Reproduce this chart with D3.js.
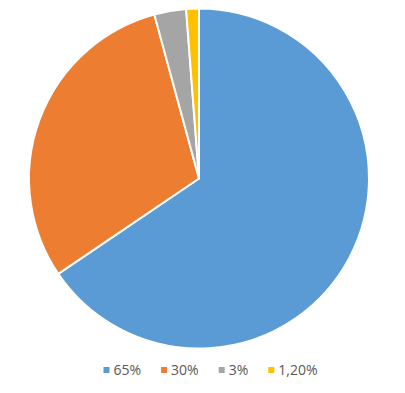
<!DOCTYPE html>
<html>
<head>
<meta charset="utf-8">
<script src="https://cdn.jsdelivr.net/npm/d3@7"></script>
<style>
  body { margin: 0; background: #fff; }
</style>
</head>
<body>
<script>
// data
var labels = ['65%', '30%', '3%', '1,20%'];
var values = [65, 30, 3, 1.2];
var colors = ['#5B9BD5', '#ED7D31', '#A5A5A5', '#FFC000'];

var width = 405, height = 393;
var cx = 199, cy = 178.5, radius = 170;

var svg = d3.select('body').append('svg')
  .attr('width', width)
  .attr('height', height);

// ----------------------------------------------------------------------------
// pie
var pie = d3.pie().sort(null).value(function (d) { return d; });
var arc = d3.arc().innerRadius(0).outerRadius(radius);

var g = svg.append('g')
  .attr('transform', 'translate(' + cx + ',' + cy + ')');

g.selectAll('path')
  .data(pie(values))
  .enter()
  .append('path')
  .attr('d', arc)
  .style('fill', function (d, i) { return colors[i]; })
  .style('stroke', '#fff')
  .style('stroke-width', 2)
  .style('stroke-linejoin', 'round');

// ----------------------------------------------------------------------------
// legend
var legend = svg.append('g')
  .attr('transform', 'translate(0,370)');

var items = legend.selectAll('g')
  .data(labels)
  .enter()
  .append('g');

items.append('rect')
  .attr('width', 6)
  .attr('height', 6)
  .attr('y', -3)
  .style('fill', function (d, i) { return colors[i]; });

items.append('text')
  .attr('x', 10)
  .attr('dy', '0.35em')
  .style('font-family', '"Open Sans", sans-serif')
  .style('font-size', '14px')
  .style('fill', '#595959')
  .text(function (d) { return d; });

var x = 0, gap = 20, pos = [];
items.each(function () {
  var w = this.getBBox().width;
  pos.push(x);
  x += w + gap;
});
var total = x - gap;
var start = width / 2 - total / 2 + 8;
items.attr('transform', function (d, i) {
  return 'translate(' + (start + pos[i]) + ',0)';
});
</script>
</body>
</html>
